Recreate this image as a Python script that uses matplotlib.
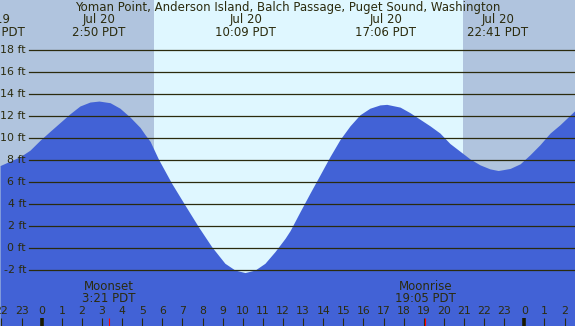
import matplotlib
matplotlib.use("Agg")
import matplotlib.pyplot as plt

# tide heights (hours from midnight Jul 20, feet)
hours = [-2.07, -1.08, -0.58, -0.08, 0.41, 0.91, 1.41, 1.90, 2.40, 2.85,
         3.40, 3.89, 4.39, 4.89, 5.14, 5.39, 5.80, 6.46, 7.13, 7.79,
         8.45, 9.11, 9.61, 10.11, 10.61, 11.10, 11.60, 12.10, 12.35, 12.84,
         13.34, 13.84, 14.33, 14.83, 15.33, 15.82, 16.32, 16.82, 17.16, 17.82,
         18.31, 18.81, 19.31, 19.80, 20.30, 20.80, 21.30, 21.79, 22.29, 22.70,
         23.29, 23.79, 24.28, 24.78, 25.28, 25.77, 26.52]
heights = [7.5, 8.3, 8.9, 9.8, 10.6, 11.4, 12.2, 12.9, 13.26, 13.35,
           13.2, 12.7, 11.9, 10.96, 10.3, 9.7, 8.1, 5.9, 3.9, 1.96,
           0.15, -1.36, -1.97, -2.2, -1.97, -1.36, -0.3, 0.9, 1.6, 3.3,
           5.0, 6.66, 8.3, 9.85, 11.1, 12.1, 12.7, 13.0, 13.05, 12.8,
           12.3, 11.7, 11.1, 10.45, 9.5, 8.8, 8.1, 7.57, 7.2, 7.05,
           7.24, 7.66, 8.48, 9.4, 10.45, 11.2, 12.5]

# high / low tide events shown along the top
event_hours = [-2.37, 2.833, 10.15, 17.1, 22.683]
event_dates = ["Jul 19", "Jul 20", "Jul 20", "Jul 20", "Jul 20"]
event_times = ["21:38 PDT", "2:50 PDT", "10:09 PDT", "17:06 PDT", "22:41 PDT"]

sunrise = 5.58
sunset = 20.95
moon_hours = [3.35, 19.083]
moon_names = ["Moonset", "Moonrise"]
moon_times = ["3:21 PDT", "19:05 PDT"]

ft_levels = [-2, 0, 2, 4, 6, 8, 10, 12, 14, 16, 18]
hour_ticks = list(range(-2, 27))

title = "Yoman Point, Anderson Island, Balch Passage, Puget Sound, Washington"

night = "#b0c4de"
day = "#dff7ff"
water = "#4262d6"
ink = "#2b2b0e"
fs = 8.5

W, H = 575, 326
fig = plt.figure(figsize=(W / 100, H / 100), dpi=100)
ax = fig.add_axes([0, 0, 1, 1])

x0, pph = 41.7, 20.11      # pixel of midnight, pixels per hour
y0, ppf = 248.3, 11.03     # pixel of 0 ft, pixels per foot
xmin, xmax = -x0 / pph, (W - x0) / pph
ymin, ymax = (y0 - H) / ppf, y0 / ppf
ax.axis("off")

ax.axvspan(xmin, xmax, color=night, lw=0, zorder=0)
ax.axvspan(sunrise, sunset, color=day, lw=0, zorder=0)
ax.fill_between(hours, heights, ymin, color=water, lw=0, zorder=1)
ax.set_xlim(xmin, xmax)
ax.set_ylim(ymin, ymax)

yt = ax.get_yaxis_transform()
xt = ax.get_xaxis_transform()
for lv in ft_levels:
    ax.plot([29 / W, 1], [lv, lv], color=ink, lw=0.9, transform=yt, zorder=2)
    ax.text(26 / W, lv, f"{lv} ft", ha="right", va="center", fontsize=7.9,
            color=ink, transform=yt, zorder=3)

ax.text(0.5, 1 - 7 / H, title, ha="center", va="center", fontsize=fs,
        color=ink, transform=ax.transAxes)
for h, d, t in zip(event_hours, event_dates, event_times):
    ax.text(h, 1 - 20 / H, d, ha="center", va="center", fontsize=fs, color=ink, transform=xt)
    ax.text(h, 1 - 32 / H, t, ha="center", va="center", fontsize=fs, color=ink, transform=xt)

for h in hour_ticks:
    ax.text(h, 1 - 311.5 / H, str(h % 24), ha="center", va="center", fontsize=7.8,
            color=ink, transform=xt)
    if h % 24 == 0:
        ax.plot([h, h], [0, 8 / H], color="#1a1a00", lw=2.6, transform=xt,
                solid_capstyle="butt")
    else:
        ax.plot([h, h], [0, 8 / H], color=ink, lw=0.8, transform=xt,
                solid_capstyle="butt")

for h, n, t in zip(moon_hours, moon_names, moon_times):
    ax.plot([h, h], [0, 8 / H], color="red", lw=0.8, transform=xt,
            solid_capstyle="butt")
    ax.text(h, 1 - 287 / H, n, ha="center", va="center", fontsize=fs, color=ink, transform=xt)
    ax.text(h, 1 - 299 / H, t, ha="center", va="center", fontsize=fs, color=ink, transform=xt)

fig.savefig("out.png", dpi=100)
